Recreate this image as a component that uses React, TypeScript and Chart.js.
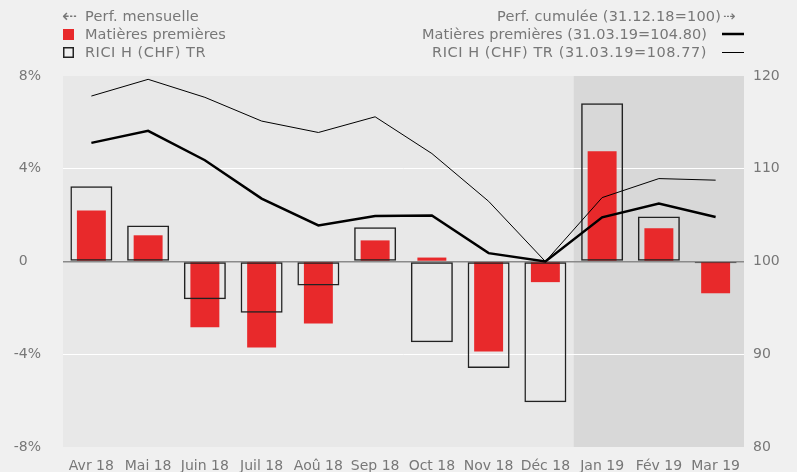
import React, { useEffect, useRef } from "react";
import { Chart, registerables } from "chart.js";

Chart.register(...registerables);

const categories = ["Avr 18", "Mai 18", "Juin 18", "Juil 18", "Aoû 18", "Sep 18", "Oct 18", "Nov 18", "Déc 18", "Jan 19", "Fév 19", "Mar 19"];
const monthlyCommodities = [2.2, 1.13, -2.84, -3.71, -2.67, 0.91, 0.17, -3.88, -0.89, 4.76, 1.43, -1.37];
const monthlyRici = [3.25, 1.55, -1.63, -2.21, -1.04, 1.48, -3.48, -4.59, -6.07, 6.83, 1.94, -0.08];
const cumulCommodities = [112.79, 114.09, 110.92, 106.78, 103.89, 104.9, 104.97, 100.9, 100, 104.76, 106.24, 104.8];
const cumulRici = [117.84, 119.64, 117.7, 115.14, 113.91, 115.6, 111.64, 106.49, 100, 106.89, 108.94, 108.77];
const leftTicks = [-8, -4, 0, 4, 8];
const rightTicks = [80, 90, 100, 110, 120];
const shadedFromIndex = 9;

const FONT = '"DejaVu Sans", Verdana, sans-serif';
const TEXT = "#777777";
const RED = "#e8292b";

const bgPlugin = {
  id: "bgPlugin",
  beforeDraw(chart: any) {
    const { ctx, chartArea, scales } = chart;
    ctx.save();
    ctx.fillStyle = "#e8e8e8";
    ctx.fillRect(chartArea.left, chartArea.top, chartArea.right - chartArea.left, chartArea.bottom - chartArea.top);
    const x = scales.x;
    const half = (x.getPixelForValue(1) - x.getPixelForValue(0)) / 2;
    const start = x.getPixelForValue(shadedFromIndex) - half;
    ctx.fillStyle = "#d8d8d8";
    ctx.fillRect(start, chartArea.top, chartArea.right - start, chartArea.bottom - chartArea.top);
    ctx.restore();
  },
};

function fitText(ctx: any, text: string, x: number, y: number, width: number, align: "left" | "right") {
  ctx.save();
  ctx.font = "14.5px " + FONT;
  ctx.textAlign = "left";
  ctx.letterSpacing = "0px";
  const w = ctx.measureText(text).width;
  const n = Array.from(text).length;
  const sp = (width - w) / n;
  ctx.letterSpacing = sp.toFixed(2) + "px";
  const left = align === "left" ? x : x - width;
  ctx.fillText(text, left, y);
  ctx.restore();
}

const legendPlugin = {
  id: "legendPlugin",
  afterDraw(chart: any) {
    const { ctx } = chart;
    ctx.save();
    ctx.fillStyle = TEXT;
    ctx.textBaseline = "alphabetic";
    ctx.textAlign = "left";
    ctx.font = "18px " + FONT;
    ctx.fillText("⇠", 62, 22);
    fitText(ctx, "Perf. mensuelle", 85, 21, 114, "left");
    ctx.fillStyle = RED;
    ctx.fillRect(63, 29, 11, 11);
    ctx.fillStyle = TEXT;
    fitText(ctx, "Matières premières", 85, 39, 141, "left");
    ctx.strokeStyle = "#222";
    ctx.lineWidth = 1.5;
    ctx.strokeRect(63.75, 47.75, 9.5, 9.5);
    fitText(ctx, "RICI H (CHF) TR", 85, 57, 121, "left");

    fitText(ctx, "Perf. cumulée (31.12.18=100)", 721, 21, 224, "right");
    ctx.font = "15px " + FONT;
    ctx.fillText("⇢", 723, 21);
    fitText(ctx, "Matières premières (31.03.19=104.80)", 707, 39, 285, "right");
    fitText(ctx, "RICI H (CHF) TR (31.03.19=108.77)", 707, 57, 275, "right");
    ctx.strokeStyle = "#000";
    ctx.lineWidth = 2.5;
    ctx.beginPath();
    ctx.moveTo(722, 34);
    ctx.lineTo(744, 34);
    ctx.stroke();
    ctx.lineWidth = 1;
    ctx.beginPath();
    ctx.moveTo(722, 52.5);
    ctx.lineTo(744, 52.5);
    ctx.stroke();
    ctx.restore();
  },
};

export default function App() {
  const ref = useRef<HTMLCanvasElement | null>(null);
  useEffect(() => {
    if (!ref.current) return;
    const chart = new Chart(ref.current, {
      type: "bar",
      data: {
        labels: categories,
        datasets: [
          {
            type: "line",
            label: "RICI H (CHF) TR cumul",
            data: cumulRici,
            yAxisID: "y1",
            borderColor: "#000",
            borderWidth: 1,
            pointRadius: 0,
            fill: false,
            tension: 0,
            order: 0,
          } as any,
          {
            type: "line",
            label: "Matières premières cumul",
            data: cumulCommodities,
            yAxisID: "y1",
            borderColor: "#000",
            borderWidth: 2.5,
            pointRadius: 0,
            fill: false,
            tension: 0,
            order: 0,
          } as any,
          {
            label: "RICI H (CHF) TR",
            data: monthlyRici,
            yAxisID: "y",
            backgroundColor: "rgba(0,0,0,0)",
            borderColor: "#222",
            borderWidth: 1.5,
            borderSkipped: false,
            barPercentage: 0.74,
            categoryPercentage: 1,
            grouped: false,
            order: 1,
          } as any,
          {
            label: "Matières premières",
            data: monthlyCommodities,
            yAxisID: "y",
            backgroundColor: RED,
            borderWidth: 0,
            barPercentage: 0.51,
            categoryPercentage: 1,
            grouped: false,
            order: 2,
          } as any,
        ],
      },
      options: {
        responsive: false,
        animation: false,
        devicePixelRatio: 1,
        layout: { padding: { top: 76, left: 0, right: 0, bottom: 0 } },
        plugins: { legend: { display: false }, tooltip: { enabled: false } },
        scales: {
          x: {
            grid: { display: false },
            border: { display: false },
            ticks: { color: TEXT, font: { family: FONT, size: 14 }, maxRotation: 0, autoSkip: false, padding: 3 },
            afterFit(scale: any) {
              scale.height = 25;
              scale.paddingLeft = 0;
              scale.paddingRight = 0;
            },
          },
          y: {
            position: "left",
            min: -8,
            max: 8,
            afterBuildTicks(scale: any) {
              scale.ticks = leftTicks.map((v) => ({ value: v }));
            },
            border: { display: false },
            grid: {
              drawTicks: false,
              color: (c: any) => (c.tick && c.tick.value === 0 ? "#8a8a8a" : Math.abs(c.tick?.value) === 8 ? "rgba(0,0,0,0)" : "#ffffff"),
              lineWidth: (c: any) => (c.tick && c.tick.value === 0 ? 1.5 : 1),
            },
            ticks: {
              color: TEXT,
              font: { family: FONT, size: 14 },
              padding: 22,
              callback: (v: any) => (Number(v) === 0 ? "0   " : v + "%"),
            },
            afterFit(scale: any) {
              scale.width = 63;
              scale.paddingTop = 0;
              scale.paddingBottom = 0;
            },
          },
          y1: {
            position: "right",
            min: 80,
            max: 120,
            afterBuildTicks(scale: any) {
              scale.ticks = rightTicks.map((v) => ({ value: v }));
            },
            border: { display: false },
            grid: { display: false, drawTicks: false },
            ticks: { color: TEXT, font: { family: FONT, size: 14 }, padding: 9 },
            afterFit(scale: any) {
              scale.width = 53;
              scale.paddingTop = 0;
              scale.paddingBottom = 0;
            },
          },
        },
      } as any,
      plugins: [bgPlugin, legendPlugin],
    });
    return () => chart.destroy();
  }, []);
  return (
    <div style={{ position: "fixed", left: 0, top: 0, width: 797, height: 472, background: "#f0f0f0" }}>
      <canvas ref={ref} width={797} height={472} style={{ display: "block", width: 797, height: 472 }} />
    </div>
  );
}
